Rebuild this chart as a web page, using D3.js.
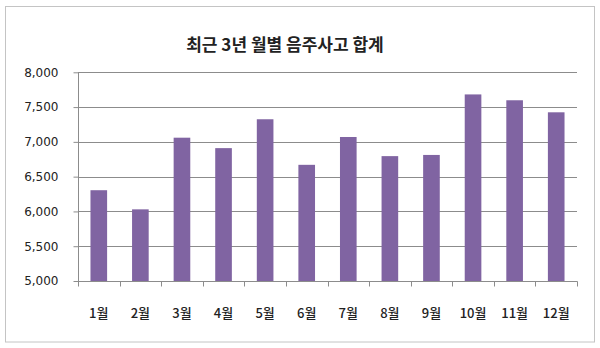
<!DOCTYPE html>
<html>
<head>
<meta charset="utf-8">
<script src="https://cdn.jsdelivr.net/npm/d3@7"></script>
<style>
  html, body { margin: 0; padding: 0; background: #fff; }
  svg { display: block; }
</style>
</head>
<body>
<svg id="chart" width="600" height="348"></svg>
<script>
const title = "최근 3년 월별 음주사고 합계";
const categories = ["1월","2월","3월","4월","5월","6월","7월","8월","9월","10월","11월","12월"];
const values = [6305, 6030, 7060, 6910, 7325, 6670, 7070, 6795, 6812, 7682, 7598, 7425];
const yTicks = [5000, 5500, 6000, 6500, 7000, 7500, 8000];

const svg = d3.select("#chart");
const pLeft = 78, pRight = 577, pTop = 72.3, pBottom = 281;

svg.append("rect")
  .attr("x", 5.5).attr("y", 6.5).attr("width", 589).attr("height", 335.5)
  .attr("fill", "#fff").attr("stroke", "#c4c4c4").attr("stroke-width", 1);

const x = d3.scaleBand().domain(categories).range([pLeft, pRight]).paddingInner(0.6).paddingOuter(0.3);
const xb = d3.scaleBand().domain(categories).range([pLeft, pRight]);
const y = d3.scaleLinear().domain([5000, 8000]).range([pBottom, pTop]);

const fontNum = "'DejaVu Sans', 'Noto Sans CJK KR', sans-serif";
const fontKr = "'Noto Sans CJK KR', sans-serif";

// gridlines
svg.append("g")
  .selectAll("line").data(yTicks.filter(d => d > 5000)).join("line")
  .attr("x1", pLeft).attr("x2", pRight)
  .attr("y1", d => Math.round(y(d)) + 0.5).attr("y2", d => Math.round(y(d)) + 0.5)
  .attr("stroke", "#8c8c8c").attr("stroke-width", 1);

// bars
svg.append("g")
  .selectAll("rect").data(values).join("rect")
  .attr("x", (d, i) => x(categories[i]))
  .attr("width", x.bandwidth())
  .attr("y", d => y(d))
  .attr("height", d => pBottom - y(d))
  .attr("fill", "#8064a2");

// y axis
const yAxis = svg.append("g")
  .attr("transform", `translate(${pLeft + 0.5},0)`)
  .call(d3.axisLeft(y).tickValues(yTicks).tickFormat(d3.format(",")).tickSize(5).tickPadding(15));
yAxis.select(".domain").attr("stroke", "#8c8c8c").attr("d", `M0,${pBottom + 0.5}V${Math.round(pTop) + 0.5}`);
yAxis.selectAll(".tick line").attr("stroke", "#8c8c8c");
yAxis.selectAll("text").attr("font-family", fontNum).attr("font-size", "12px").attr("fill", "#222");

// x axis
const xAxisG = svg.append("g").attr("transform", `translate(0,${Math.round(pBottom) + 0.5})`);
xAxisG.append("line").attr("x1", pLeft).attr("x2", pRight + 0.5).attr("stroke", "#8c8c8c");
xAxisG.selectAll("line.t").data(categories.concat(["end"])).join("line")
  .attr("class", "t")
  .attr("x1", (d, i) => Math.round(pLeft + i * xb.step()) + 0.5)
  .attr("x2", (d, i) => Math.round(pLeft + i * xb.step()) + 0.5)
  .attr("y1", 0).attr("y2", 5).attr("stroke", "#8c8c8c");
xAxisG.selectAll("text").data(categories).join("text")
  .attr("x", d => xb(d) + xb.bandwidth() / 2)
  .attr("y", 36)
  .attr("text-anchor", "middle")
  .attr("font-family", fontKr).attr("font-size", "13px").attr("font-weight", 500)
  .attr("fill", "#222")
  .text(d => d);

// title
svg.append("text")
  .attr("x", 285).attr("y", 51)
  .attr("text-anchor", "middle")
  .attr("font-family", fontKr).attr("font-size", "17px").attr("font-weight", "bold")
  .attr("fill", "#222")
  .text(title);
</script>
</body>
</html>
